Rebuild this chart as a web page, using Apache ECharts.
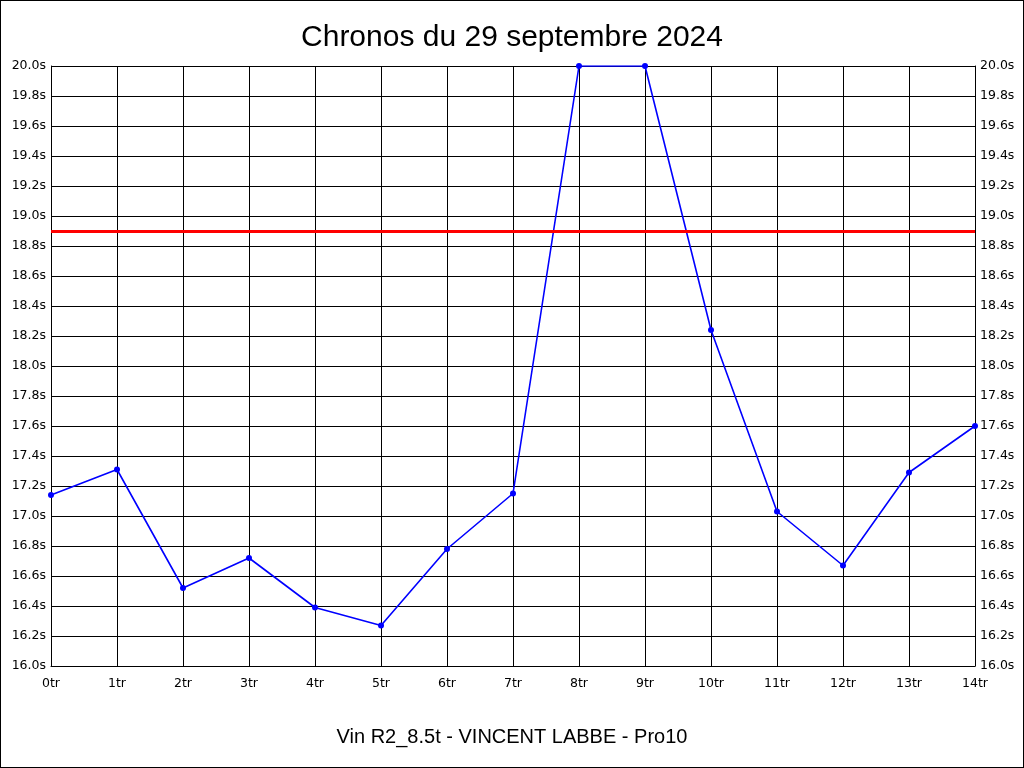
<!DOCTYPE html>
<html>
<head>
<meta charset="utf-8">
<script src="https://cdn.jsdelivr.net/npm/echarts@6/dist/echarts.min.js"></script>
<style>
  html, body { margin: 0; padding: 0; background: #fff; }
  #chart { width: 1024px; height: 768px; box-sizing: border-box; border: 1px solid #000; }
</style>
</head>
<body>
<div id="chart"></div>
<script>
// tours
var laps = ['0tr', '1tr', '2tr', '3tr', '4tr', '5tr', '6tr', '7tr', '8tr', '9tr', '10tr', '11tr', '12tr', '13tr', '14tr']
// chronos en secondes
var times = [17.14, 17.31, 16.52, 16.72, 16.39, 16.27, 16.78, 17.15, 20.0, 20.0, 18.24, 17.03, 16.67, 17.29, 17.60]
var target = 18.9
var yMin = 16.0
var yMax = 20.0
var yStep = 0.2

var font = 'Liberation Sans, Arial, sans-serif'
var tickFont = 'DejaVu Sans, sans-serif'

var chart = echarts.init(document.getElementById('chart'))

function yAxisOpt(pos) {
  return {
    type: 'value',
    position: pos,
    min: yMin,
    max: yMax,
    interval: yStep,
    axisLine: { show: true, lineStyle: { color: '#000', width: 1 } },
    axisTick: { show: false },
    splitLine: { show: pos === 'left', lineStyle: { color: '#000', width: 1 } },
    axisLabel: {
      color: '#000',
      fontFamily: tickFont,
      fontSize: 12.5,
      margin: 5,
      formatter: function (v) { return v.toFixed(1) + 's' }
    }
  }
}

chart.setOption({
  animation: false,
  title: [
    {
      text: 'Chronos du 29 septembre 2024',
      left: 'center',
      top: 17,
      textStyle: { fontFamily: font, fontSize: 30, fontWeight: 'normal', color: '#000' }
    },
    {
      text: 'Vin R2_8.5t - VINCENT LABBE - Pro10',
      left: 'center',
      top: 721,
      textStyle: { fontFamily: font, fontSize: 20, fontWeight: 'normal', color: '#000' }
    }
  ],
  grid: { left: 50, right: 48, top: 65, bottom: 101, containLabel: false },
  xAxis: {
    type: 'category',
    data: laps,
    boundaryGap: false,
    axisLine: { show: true, lineStyle: { color: '#000', width: 1 } },
    axisTick: { show: false },
    splitLine: { show: true, lineStyle: { color: '#000', width: 1 } },
    axisLabel: { color: '#000', fontFamily: tickFont, fontSize: 12.5, margin: 11 }
  },
  yAxis: [yAxisOpt('left'), yAxisOpt('right')],
  series: [
    {
      type: 'line',
      data: times,
      symbol: 'circle',
      symbolSize: 6,
      lineStyle: { color: '#0000ff', width: 1.6 },
      itemStyle: { color: '#0000ff' },
      markLine: {
        silent: true,
        symbol: 'none',
        label: { show: false },
        lineStyle: { color: '#ff0000', width: 3, type: 'solid' },
        data: [{ yAxis: target }]
      }
    }
  ]
})
</script>
</body>
</html>
